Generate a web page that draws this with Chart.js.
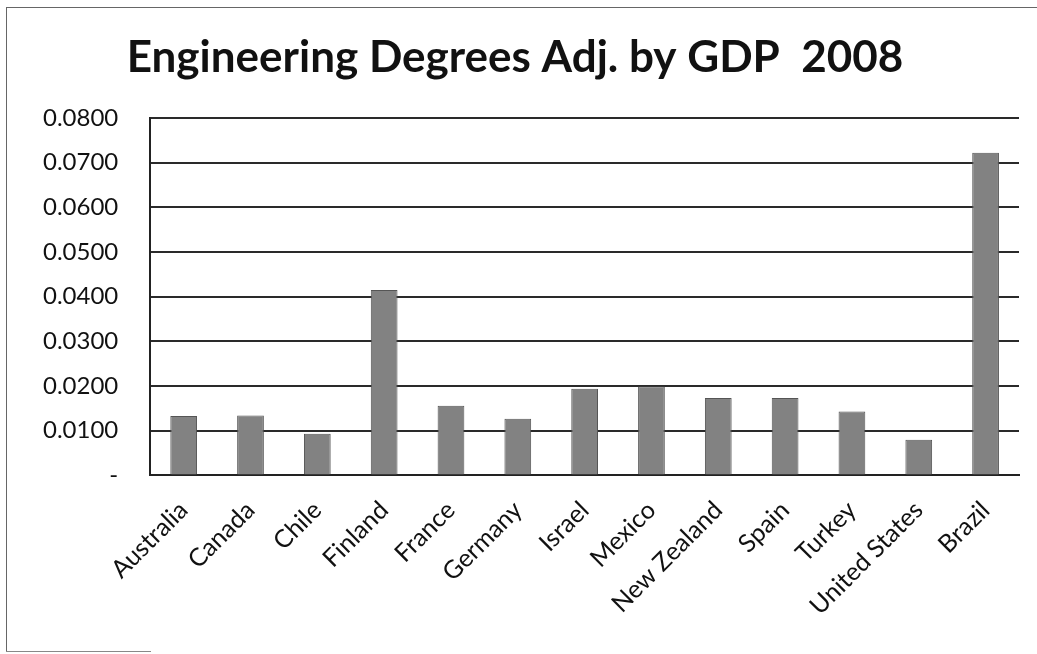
<!DOCTYPE html>
<html>
<head>
<meta charset="utf-8">
<script src="https://cdn.jsdelivr.net/npm/chart.js@4/dist/chart.umd.min.js"></script>
<style>
  html, body { margin: 0; padding: 0; background: #fff; }
  #wrap { position: relative; width: 1037px; height: 654px; }
  #frame { position: absolute; left: 6px; top: 7px; right: 0; bottom: 2px;
           border-left: 1px solid #666; border-top: 1px solid #666; pointer-events: none; }
  #foot { position: absolute; left: 6px; top: 651px; width: 145px; border-top: 1px solid #888; }
</style>
</head>
<body>
<div id="wrap">
  <canvas id="chart" width="1037" height="654"></canvas>
  <div id="frame"></div>
  <div id="foot"></div>
</div>
<script>
const countries = ['Australia', 'Canada', 'Chile', 'Finland', 'France', 'Germany', 'Israel',
                   'Mexico', 'New Zealand', 'Spain', 'Turkey', 'United States', 'Brazil'];
const degreesByGdp = [0.0133, 0.0134, 0.0093, 0.0415, 0.0156, 0.0127, 0.0194,
                      0.0199, 0.0173, 0.0173, 0.0143, 0.0080, 0.0722];
const yMax = 0.08;
const yStep = 0.01;

const ctx = document.getElementById('chart').getContext('2d');
new Chart(ctx, {
    type: 'bar',
    data: {
        labels: countries,
        datasets: [{
            label: 'Engineering Degrees Adj. by GDP 2008',
            data: degreesByGdp,
            backgroundColor: '#828282',
            borderColor: '#555',
            borderWidth: 1,
            barPercentage: 0.4,
            categoryPercentage: 1
        }]
    },
    options: {
        responsive: false,
        animation: false,
        layout: { padding: { left: 11, right: 18, top: 0, bottom: 21 } },
        plugins: {
            legend: { display: false },
            tooltip: { enabled: false },
            title: {
                display: true,
                text: 'Engineering Degrees Adj. by GDP  2008',
                color: '#111',
                font: { family: 'Lato', size: 44, weight: 'bold' },
                padding: { top: 31, bottom: 34 }
            }
        },
        scales: {
            x: {
                grid: { display: false },
                border: { display: true, color: '#222', width: 2 },
                ticks: {
                    color: '#111',
                    font: { family: 'Lato', size: 25 },
                    minRotation: 45,
                    maxRotation: 45,
                    padding: 12
                }
            },
            y: {
                min: 0,
                max: yMax,
                grid: { color: '#2a2a2a', lineWidth: 2, drawTicks: false },
                border: { display: true, color: '#222', width: 2 },
                ticks: {
                    stepSize: yStep,
                    color: '#111',
                    font: { family: 'Lato', size: 24 },
                    padding: 32,
                    callback: v => v === 0 ? '-' : v.toFixed(4)
                }
            }
        }
    }
});
</script>
</body>
</html>
